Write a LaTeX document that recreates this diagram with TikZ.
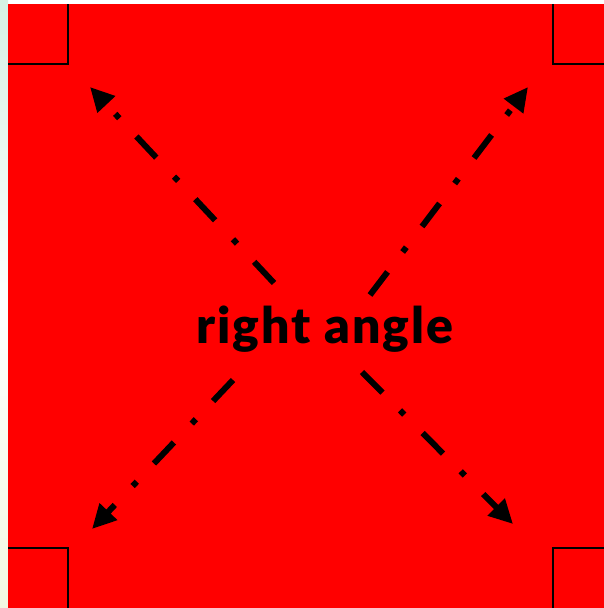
\documentclass[tikz,border=0pt]{standalone}
\usepackage{fontspec}
\newfontfamily\lblfont{Lato Black}[LetterSpace=4]
\usetikzlibrary{arrows.meta}
\definecolor{mint}{HTML}{D6F1E4}
\definecolor{ivory}{HTML}{F2F8E2}
\tikzset{
  corner/.style={draw=black, line width=2pt},
  diag/.style={draw=black, line width=6pt, line cap=butt,
    dash pattern=on 29pt off 25pt on 6pt off 26pt,
    -{Triangle[length=24pt,width=23pt]}},
  label/.style={font=\lblfont\fontsize{50}{54}\selectfont, text=black, inner sep=0pt}
}
\begin{document}
\begin{tikzpicture}[x=1pt,y=-1pt]
\useasboundingbox (0,0) rectangle (604,608);
\fill[white] (0,0) rectangle (604,608);
\shade[top color=mint, bottom color=ivory, middle color=white!96!mint] (0,0) rectangle (8,608);
\fill[red] (8,4) rectangle (604,608);
% corner squares
\draw[corner] (68,4) -- (68,64) -- (8,64);
\draw[corner] (553,4) -- (553,64) -- (604,64);
\draw[corner] (8,548) -- (68,548) -- (68,608);
\draw[corner] (553,608) -- (553,548) -- (604,548);
% label
\node[label] (lbl) at (325,329) {right angle};
% arrow ends
\coordinate (s1) at (274,283);
\coordinate (s2) at (370,295);
\coordinate (s3) at (233,380);
\coordinate (s4) at (362,372);
\coordinate (t1) at (90,87);
\coordinate (t2) at (528,87);
\coordinate (t3) at (92,529);
\coordinate (t4) at (513,524);
\draw[diag] (s1) -- (t1);
\draw[diag] (s2) -- (t2);
\draw[diag] (s3) -- (t3);
\draw[diag] (s4) -- (t4);
\end{tikzpicture}
\end{document}
